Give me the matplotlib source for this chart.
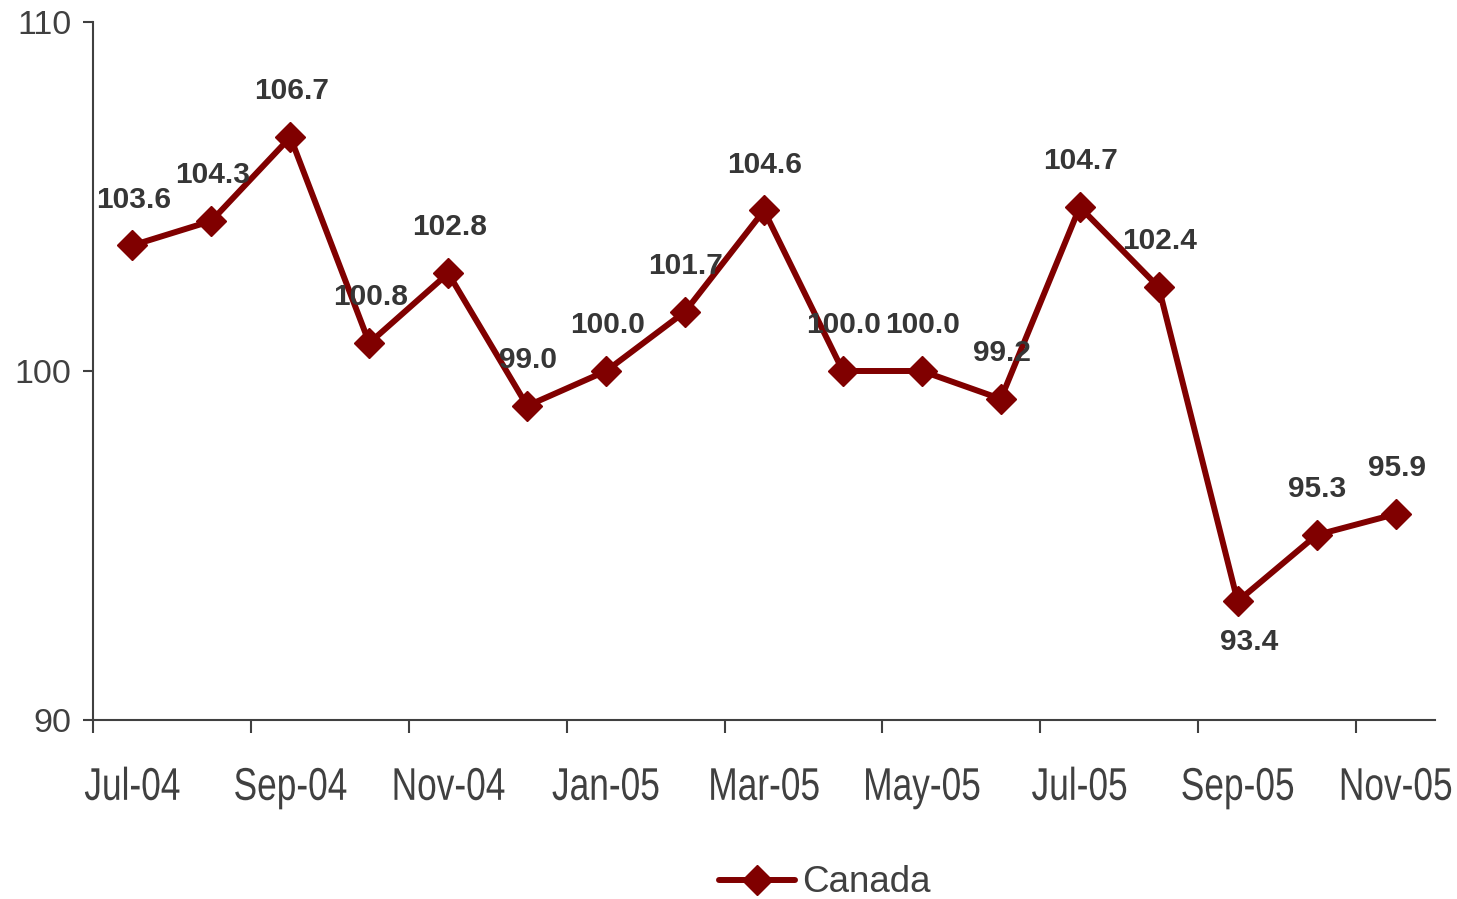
import matplotlib
matplotlib.use("Agg")
import matplotlib.pyplot as plt
from matplotlib.lines import Line2D
from matplotlib.patheffects import AbstractPathEffect
from matplotlib.transforms import Affine2D

months = ["Jul-04", "Aug-04", "Sep-04", "Oct-04", "Nov-04", "Dec-04",
          "Jan-05", "Feb-05", "Mar-05", "Apr-05", "May-05", "Jun-05",
          "Jul-05", "Aug-05", "Sep-05", "Oct-05", "Nov-05"]
canada = [103.6, 104.3, 106.7, 100.8, 102.8, 99.0, 100.0, 101.7, 104.6,
          100.0, 100.0, 99.2, 104.7, 102.4, 93.4, 95.3, 95.9]
series_name = "Canada"
y_ticks = [90, 100, 110]

LINE = "#800000"
TEXT = "#404040"
LABEL = "#363636"


class Condensed(AbstractPathEffect):
    """Draw text glyphs squeezed horizontally about their own centre."""

    def __init__(self, sx=0.77):
        super().__init__()
        self.sx = sx

    def draw_path(self, renderer, gc, tpath, affine, rgbFace=None):
        ext = tpath.get_extents(affine)
        cx = 0.5 * (ext.x0 + ext.x1)
        squeeze = Affine2D().translate(-cx, 0).scale(self.sx, 1).translate(cx, 0)
        renderer.draw_path(gc, tpath, affine + squeeze, rgbFace)


plt.rcParams["font.family"] = ["Liberation Sans", "DejaVu Sans"]

fig = plt.figure(figsize=(14.57, 8.99), dpi=100)
ax = fig.add_axes([93 / 1457, 1 - 720 / 899, (1435 - 93) / 1457, (720 - 22) / 899])

x = list(range(len(months)))
ax.plot(x, canada, color=LINE, lw=4.3, marker="D", ms=15, mfc=LINE, mec=LINE,
        mew=1, solid_joinstyle="miter", zorder=3, clip_on=False)

for i, v in enumerate(canada):
    if i == 14:
        off = (8.5, -29)
    else:
        off = (0.7, 33)
    ax.annotate(f"{v:.1f}", (i, v), xytext=off, textcoords="offset points",
                ha="center", va="center", fontsize=21.5, fontweight="bold",
                color=LABEL, zorder=4)

ax.set_xlim(-0.5, len(months) - 0.5)
ax.set_ylim(90, 110)
ax.set_yticks(y_ticks)
ax.set_yticklabels([str(t) for t in y_ticks])

ax.set_xticks(x[::2])
ax.set_xticklabels(months[::2], fontsize=33, color=TEXT)
for lab in ax.get_xticklabels():
    lab.set_path_effects([Condensed(0.77)])
ax.set_xticks([i - 0.5 for i in range(0, len(months), 2)], minor=True)
ax.tick_params(axis="x", which="major", length=0, pad=33)
ax.tick_params(axis="x", which="minor", length=9.5, width=1.5, color=TEXT, direction="out")
ax.tick_params(axis="y", length=7.5, width=1.5, color=TEXT, labelsize=24.5,
               labelcolor=TEXT, pad=8)

for s in ["top", "right"]:
    ax.spines[s].set_visible(False)
for s in ["left", "bottom"]:
    ax.spines[s].set_color(TEXT)
    ax.spines[s].set_linewidth(1.5)

handle = Line2D([], [], color=LINE, lw=4.3, marker="D", ms=15, mfc=LINE, mec=LINE,
                solid_capstyle="round")
leg = fig.legend([handle], [series_name], loc="center",
                 bbox_to_anchor=(825 / 1457, 1 - 883 / 899), frameon=False,
                 fontsize=26.5, handlelength=2.05, handletextpad=0.2,
                 borderpad=0, borderaxespad=0)
for t in leg.get_texts():
    t.set_color(TEXT)

fig.savefig("out.png", dpi=100, facecolor="white")
